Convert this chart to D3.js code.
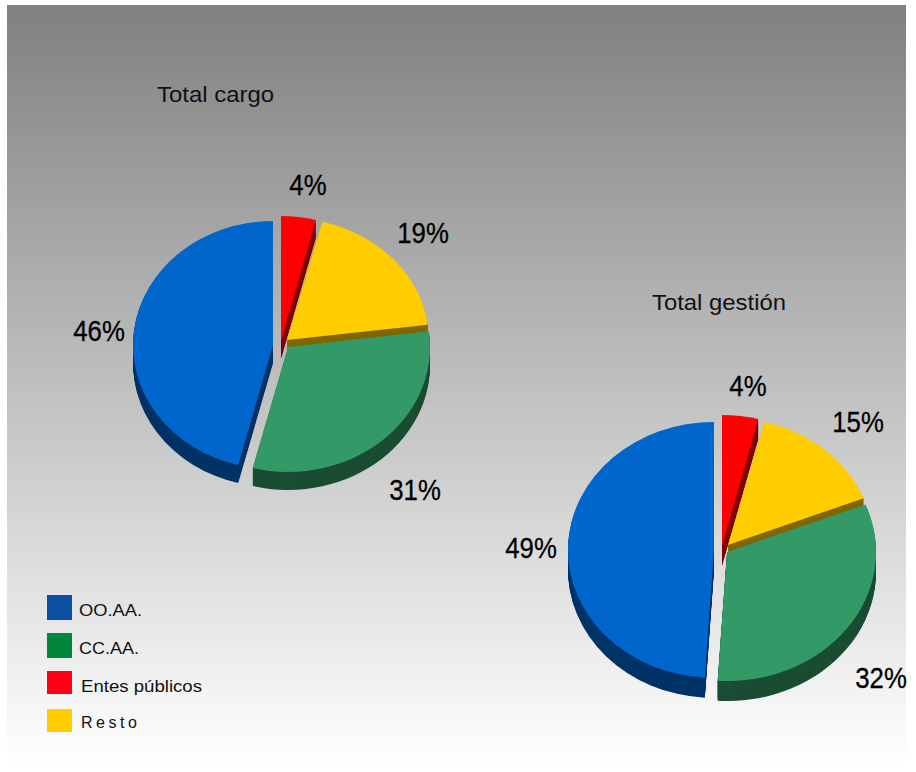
<!DOCTYPE html>
<html>
<head>
<meta charset="utf-8">
<script src="https://cdn.jsdelivr.net/npm/d3@7"></script>
<style>
  html, body { margin: 0; padding: 0; background: #fff; }
  svg { display: block; }
</style>
</head>
<body>
<div id="chart"></div>
<script>
const categories = ["Entes públicos", "Resto", "CC.AA.", "OO.AA."];
const totalCargo = [4, 19, 31, 46];
const totalGestion = [4, 15, 32, 49];
const legendLabels = ["OO.AA.", "CC.AA.", "Entes públicos", "Resto"];
const chartTitles = ["Total cargo", "Total gestión"];

const topColors = { "OO.AA.": "#0066cc", "CC.AA.": "#339966", "Entes públicos": "#ff0000", "Resto": "#ffcc00" };
const sideColors = { "OO.AA.": "#003366", "CC.AA.": "#1a4d33", "Entes públicos": "#800000", "Resto": "#806600" };
const legendColors = { "OO.AA.": "#0b50a0", "CC.AA.": "#00873d", "Entes públicos": "#ff0016", "Resto": "#ffcc00" };

// each slice is pulled out a bit, so every one has its own centre and radii
const pies = [
  {
    values: totalCargo, title: chartTitles[0], titleX: 157, titleY: 102, titleW: 117, depth: 18,
    centers: [[281, 341, 140, 125], [287, 340, 142, 122], [288, 347, 142, 125], [273, 345, 140, 124]],
    labels: [[308, 195], [423, 243], [415, 500], [99, 341]]
  },
  {
    values: totalGestion, title: chartTitles[1], titleX: 652, titleY: 310, titleW: 134, depth: 20,
    centers: [[722, 546, 146, 131], [728, 545, 146, 127], [727, 552, 149, 129], [714, 550, 146, 128]],
    labels: [[748, 396], [858, 432], [881, 688], [531, 558]]
  }
];

const width = 916, height = 772;

const svg = d3.select("#chart").append("svg")
  .attr("width", width)
  .attr("height", height);

const grad = svg.append("defs").append("linearGradient")
  .attr("id", "bg")
  .attr("x1", 0).attr("y1", 0).attr("x2", 0).attr("y2", 1);
grad.append("stop").attr("offset", 0).attr("stop-color", "#808080");
grad.append("stop").attr("offset", 1).attr("stop-color", "#ffffff");

svg.append("rect")
  .attr("x", 7).attr("y", 5)
  .attr("width", 899).attr("height", 760)
  .attr("fill", "url(#bg)");

const pie = d3.pie().sort(null);
const arc = d3.arc().innerRadius(0).outerRadius(100);

pies.forEach(p => {
  const g = svg.append("g");
  const arcs = pie(p.values);

  arcs.forEach((d, i) => {
    const name = categories[i];
    const [cx, cy, rx, ry] = p.centers[i];
    const slice = g.append("g");

    // side of the slice, the same shape stacked downward
    slice.selectAll("path.side")
      .data(d3.range(p.depth, 0, -1))
      .enter().append("path")
      .attr("class", "side")
      .attr("d", arc(d))
      .attr("transform", k => `translate(${cx},${cy + k}) scale(${rx / 100},${ry / 100})`)
      .attr("fill", sideColors[name]);

    slice.append("path")
      .attr("d", arc(d))
      .attr("transform", `translate(${cx},${cy}) scale(${rx / 100},${ry / 100})`)
      .attr("fill", topColors[name]);
  });

  // no narrow font installed, so squeeze the normal one
  g.selectAll("text.pct")
    .data(p.values)
    .enter().append("text")
    .attr("class", "pct")
    .attr("transform", (d, i) => `translate(${p.labels[i][0]},${p.labels[i][1]}) scale(0.86,1)`)
    .attr("text-anchor", "middle")
    .style("font-family", "'Liberation Sans', Arial, sans-serif")
    .style("font-size", "30px")
    .style("stroke", "#000")
    .style("stroke-width", "0.3px")
    .attr("fill", "#000")
    .text(d => d + "%");

  svg.append("text")
    .attr("x", p.titleX)
    .attr("y", p.titleY)
    .attr("textLength", p.titleW)
    .attr("lengthAdjust", "spacingAndGlyphs")
    .style("font-family", "'Liberation Sans', Arial, sans-serif")
    .style("font-size", "22.5px")
    .attr("fill", "#111")
    .text(p.title);
});

// legend
const legendRows = [
  { y: 595, h: 25, textX: 79, textY: 616, w: 63, adjust: "spacingAndGlyphs" },
  { y: 633, h: 25, textX: 79, textY: 654, w: 60, adjust: "spacingAndGlyphs" },
  { y: 671, h: 23, textX: 81, textY: 692, w: 121, adjust: "spacingAndGlyphs" },
  { y: 709, h: 23, textX: 81, textY: 728, w: 56, adjust: "spacing" }
];

const legend = svg.append("g");
legendLabels.forEach((name, i) => {
  const row = legendRows[i];
  legend.append("rect")
    .attr("x", 47).attr("y", row.y)
    .attr("width", 25).attr("height", row.h)
    .attr("fill", legendColors[name]);
  legend.append("text")
    .attr("x", row.textX).attr("y", row.textY)
    .attr("textLength", row.w)
    .attr("lengthAdjust", row.adjust)
    .style("font-family", "'Liberation Sans', Arial, sans-serif")
    .style("font-size", "16px")
    .attr("fill", "#111")
    .text(name);
});
</script>
</body>
</html>
